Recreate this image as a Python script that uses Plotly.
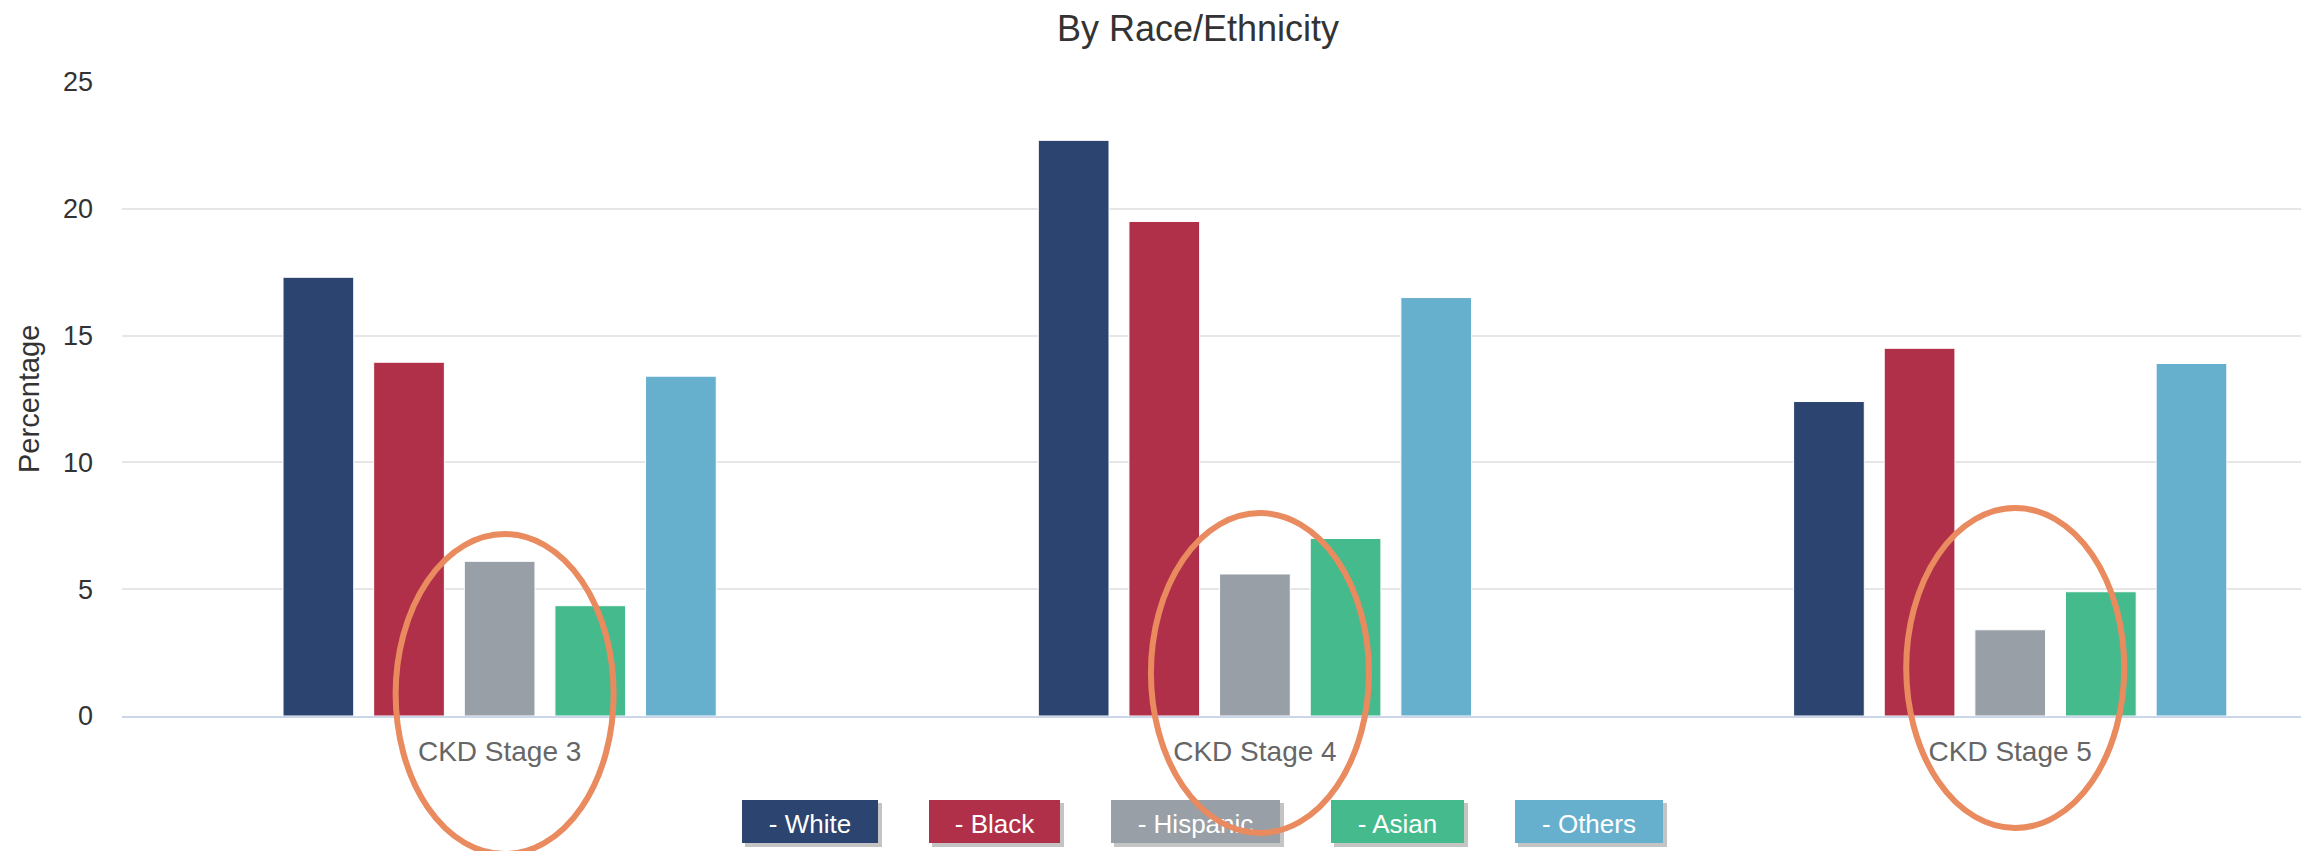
import plotly.graph_objects as go

# ---------------- data ----------------
CATEGORIES = ["CKD Stage 3", "CKD Stage 4", "CKD Stage 5"]
SERIES = ["White", "Black", "Hispanic", "Asian", "Others"]
WHITE = [17.3, 22.7, 12.4]
BLACK = [13.95, 19.5, 14.5]
HISPANIC = [6.1, 5.6, 3.4]
ASIAN = [4.35, 7.0, 4.9]
OTHERS = [13.4, 16.5, 13.9]
VALUES = [WHITE, BLACK, HISPANIC, ASIAN, OTHERS]
LEGEND_LABELS = ["- White", "- Black", "- Hispanic", "- Asian", "- Others"]
TITLE = "By Race/Ethnicity"
Y_TITLE = "Percentage"

# ---------------- style ----------------
COLORS = ["#2C4470", "#B13049", "#989FA7", "#45BA8C", "#66B0CE"]
FONT = "Liberation Sans, Arial, sans-serif"
OFF = 8                                   # page body margin
W_PX, H_PX = 2311 - OFF, 851 - OFF
L, R, T, B = 122 - OFF, 2301 - OFF, 82 - OFF, 716 - OFF   # plot area (figure px)
PW, PH = R - L, B - T
X_RANGE = [-0.5, 2.385]
Y_RANGE = [0, 25]


def px_x(px):
    """screen px (reference) -> paper x"""
    return (px - OFF - L) / PW


def px_y(py):
    """screen px (reference) -> paper y"""
    return (B - (py - OFF)) / PH


def cat_px(i):
    return OFF + L + (i - X_RANGE[0]) / (X_RANGE[1] - X_RANGE[0]) * PW


fig = go.Figure()
for name, vals, color in zip(SERIES, VALUES, COLORS):
    fig.add_bar(x=CATEGORIES, y=vals, name=name,
                marker=dict(color=color, line=dict(color="white", width=1)))

shapes = []
annotations = []

# legend "buttons"
LEG_W = [136, 131, 169, 133, 148]
LEG_GAP = 51
LEG_X0 = 742
LEG_Y0, LEG_Y1 = 800, 843
x = LEG_X0
for lab, col, w in zip(LEGEND_LABELS, COLORS, LEG_W):
    shapes.append(dict(type="rect", xref="paper", yref="paper",
                       x0=px_x(x + 3), x1=px_x(x + w + 4),
                       y0=px_y(LEG_Y1 + 4), y1=px_y(LEG_Y0 + 3),
                       line=dict(width=0), fillcolor="rgba(60,60,60,0.30)",
                       layer="above"))
    shapes.append(dict(type="rect", xref="paper", yref="paper",
                       x0=px_x(x), x1=px_x(x + w),
                       y0=px_y(LEG_Y1), y1=px_y(LEG_Y0),
                       line=dict(width=0), fillcolor=col, layer="above",
                       label=dict(text=lab, textposition="middle center",
                                  font=dict(family=FONT, size=26, color="white"))))
    x += w + LEG_GAP

# orange highlight ellipses
ELL_CY = [694, 673, 668]
ELL_RX, ELL_RY = 109, 160
for i, cy in enumerate(ELL_CY):
    cx = cat_px(i) + 5
    shapes.append(dict(type="circle", xref="paper", yref="paper",
                       x0=px_x(cx - ELL_RX), x1=px_x(cx + ELL_RX),
                       y0=px_y(cy + ELL_RY), y1=px_y(cy - ELL_RY),
                       line=dict(color="#E98A5F", width=6),
                       fillcolor="rgba(0,0,0,0)", layer="above"))

annotations.append(dict(text=Y_TITLE, xref="paper", yref="paper",
                        x=px_x(29), y=0.5, xanchor="center", yanchor="middle",
                        textangle=-90, showarrow=False,
                        font=dict(family=FONT, size=29, color="#333333")))

fig.update_layout(
    width=W_PX, height=H_PX,
    margin=dict(l=L, r=W_PX - R, t=T, b=H_PX - B, pad=0),
    paper_bgcolor="white", plot_bgcolor="white",
    barmode="group", bargap=0.4, bargroupgap=0.22,
    showlegend=False,
    title=dict(text=TITLE, x=px_x(1198), xref="paper", xanchor="center",
               y=1 - (28 - OFF) / H_PX, yref="container", yanchor="middle",
               font=dict(family=FONT, size=36, color="#333333")),
    xaxis=dict(range=X_RANGE, showgrid=False, showline=True,
               linecolor="#ccd6eb", linewidth=2, ticks="",
               tickfont=dict(family=FONT, size=28, color="#666666"),
               ticklabelstandoff=9, fixedrange=True),
    yaxis=dict(range=Y_RANGE, dtick=5, showgrid=True, gridcolor="#e6e6e6",
               gridwidth=1.5, zeroline=False, ticks="",
               tickfont=dict(family=FONT, size=27, color="#333333"),
               ticklabelstandoff=28, fixedrange=True),
    shapes=shapes, annotations=annotations,
)

fig.write_html("out.html")
